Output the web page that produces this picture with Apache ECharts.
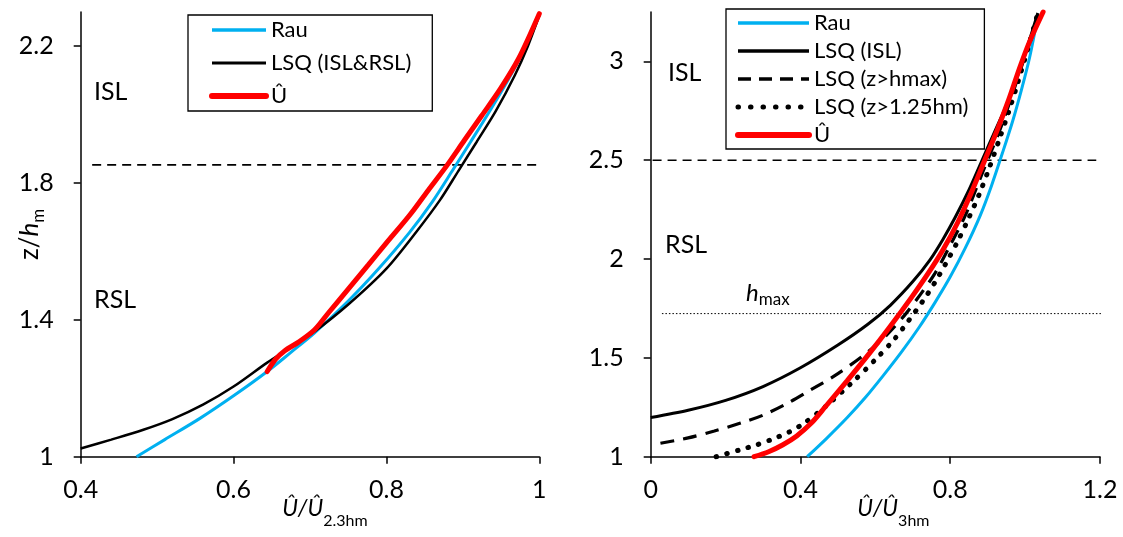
<!DOCTYPE html>
<html>
<head>
<meta charset="utf-8">
<script src="https://cdn.jsdelivr.net/npm/echarts@6/dist/echarts.min.js"></script>
<style>html,body{margin:0;padding:0;background:#fff}#c{width:1123px;height:537px}</style>
</head>
<body>
<div id="c"></div>
<script>
// ---------- data ----------
const leftXTicks = [0.4, 0.6, 0.8, 1];
const leftYTicks = [1, 1.4, 1.8, 2.2];
const rightXTicks = [0, 0.4, 0.8, 1.2];
const rightYTicks = [1, 1.5, 2, 2.5, 3];

const leftRau = [[0.473,1.0],[0.51,1.05],[0.556,1.112],[0.6,1.178],[0.644,1.249],[0.675,1.305],[0.706,1.362],[0.75,1.455],[0.79,1.55],[0.83,1.655],[0.86,1.745],[0.886,1.835],[0.91,1.92],[0.935,2.01],[0.96,2.105],[0.98,2.19],[1.0,2.29]];
const leftLSQ = [[0.4,1.024],[0.44,1.05],[0.481,1.078],[0.52,1.11],[0.56,1.152],[0.6,1.205],[0.644,1.275],[0.675,1.32],[0.706,1.366],[0.75,1.445],[0.8,1.55],[0.84,1.66],[0.87,1.75],[0.894,1.835],[0.918,1.92],[0.943,2.01],[0.968,2.115],[0.985,2.2],[1.0,2.29]];
const leftU = [[0.644,1.249],[0.655,1.285],[0.667,1.31],[0.685,1.335],[0.706,1.371],[0.724,1.42],[0.75,1.49],[0.776,1.56],[0.80,1.625],[0.83,1.705],[0.855,1.78],[0.879,1.851],[0.902,1.925],[0.925,1.998],[0.949,2.075],[0.973,2.164],[1.0,2.295]];
const leftISL = 1.853;
const leftISLspan = [0.415, 1.005];

const rightRau = [[0.418,1.0],[0.47,1.093],[0.525,1.198],[0.575,1.303],[0.621,1.41],[0.67,1.53],[0.717,1.655],[0.76,1.782],[0.8,1.91],[0.84,2.055],[0.88,2.22],[0.91,2.37],[0.94,2.54],[0.967,2.70],[0.99,2.855],[1.012,3.02],[1.034,3.23]];
const rightLSQisl = [[0,1.198],[0.1,1.235],[0.2,1.285],[0.3,1.355],[0.4,1.45],[0.5,1.565],[0.58,1.67],[0.64,1.766],[0.7,1.886],[0.746,1.996],[0.78,2.098],[0.813,2.21],[0.85,2.35],[0.885,2.5],[0.92,2.65],[0.955,2.8],[0.99,2.98],[1.034,3.245]];
const rightLSQhmax = [[0.026,1.068],[0.1,1.095],[0.17,1.13],[0.24,1.17],[0.3,1.21],[0.36,1.265],[0.42,1.33],[0.5,1.42],[0.58,1.53],[0.63,1.615],[0.68,1.72],[0.72,1.82],[0.76,1.93],[0.8,2.07],[0.84,2.22],[0.893,2.47],[0.93,2.64],[0.96,2.8],[0.995,3.0],[1.04,3.25]];
const rightLSQ125 = [[0.175,1.0],[0.237,1.034],[0.28,1.058],[0.324,1.088],[0.37,1.125],[0.41,1.17],[0.467,1.254],[0.535,1.37],[0.602,1.495],[0.65,1.593],[0.688,1.686],[0.727,1.788],[0.76,1.885],[0.789,1.98],[0.82,2.09],[0.85,2.21],[0.878,2.33],[0.905,2.465],[0.93,2.6],[0.957,2.75],[0.98,2.89],[1.005,3.05],[1.034,3.245]];
const rightU = [[0.276,1.0],[0.315,1.025],[0.352,1.059],[0.39,1.105],[0.429,1.17],[0.467,1.254],[0.525,1.385],[0.583,1.52],[0.64,1.66],[0.698,1.81],[0.74,1.925],[0.78,2.045],[0.82,2.185],[0.855,2.33],[0.89,2.49],[0.925,2.65],[0.957,2.81],[0.985,2.965],[1.012,3.1],[1.048,3.25]];
const rightISL = 2.5;
const rightISLspan = [0.005, 1.19];
const hmax = 1.724;
const hmaxSpan = [0.03, 1.205];

// ---------- style ----------
const FONT = 'Lato';
const BLUE = '#00b0f0', RED = '#ff0000', BLACK = '#000000';
const DASH = [13, 8], DOT = [0.5, 10.5];

function axisX(idx, min, max, ticks, nameRich, shift) {
  return {
    type: 'value', gridIndex: idx, min: min, max: max, interval: ticks[1]-ticks[0],
    splitLine: {show: false},
    axisLine: {lineStyle: {color: BLACK, width: 1.5}},
    axisTick: {show: true, length: 7, inside: false, lineStyle: {color: BLACK, width: 1.5}, customValues: ticks},
    axisLabel: {customValues: ticks, formatter: v => String(+v.toFixed(2)), fontFamily: FONT, fontSize: 25, color: BLACK, margin: 21},
    name: nameRich, nameLocation: 'middle', nameGap: 32, nameMoveOverlap: false,
    nameTextStyle: {padding: [0,0,0,shift], rich: {
      i: {fontFamily: FONT, fontStyle: 'italic', fontSize: 23, lineHeight: 40, color: BLACK},
      s: {fontFamily: FONT, fontSize: 16, lineHeight: 16, verticalAlign: 'bottom', color: BLACK}
    }}
  };
}
function axisY(idx, min, max, ticks, withName) {
  const a = {
    type: 'value', gridIndex: idx, min: min, max: max, interval: ticks[1]-ticks[0],
    splitLine: {show: false},
    axisLine: {lineStyle: {color: BLACK, width: 1.5}},
    axisTick: {show: true, length: 7, inside: false, lineStyle: {color: BLACK, width: 1.5}, customValues: ticks},
    axisLabel: {customValues: ticks, formatter: v => String(+v.toFixed(2)), fontFamily: FONT, fontSize: 25, color: BLACK, margin: 27}
  };
  if (withName) {
    a.name = '{a|z/}{i|h}{s|m}';
    a.nameLocation = 'middle';
    a.nameRotate = 90;
    a.nameGap = 34;
    a.nameMoveOverlap = false;
    a.nameTextStyle = {rich: {
      a: {fontFamily: FONT, fontSize: 26, lineHeight: 34, color: BLACK},
      i: {fontFamily: FONT, fontStyle: 'italic', fontSize: 26, lineHeight: 34, color: BLACK},
      s: {fontFamily: FONT, fontSize: 17, lineHeight: 22, verticalAlign: 'bottom', color: BLACK}
    }};
  }
  return a;
}
function line(name, data, xi, color, width, type, cap) {
  return {
    name: name, type: 'line', xAxisIndex: xi, yAxisIndex: xi, data: data,
    showSymbol: false, symbol: 'none', smooth: 0.3, clip: false, silent: true,
    lineStyle: {color: color, width: width, type: type || 'solid', cap: cap || 'butt'},
    itemStyle: {color: color}
  };
}
function refLine(span, y, xi, width, type) {
  return {
    type: 'line', xAxisIndex: xi, yAxisIndex: xi,
    data: [[span[0], y], [span[1], y]], showSymbol: false, symbol: 'none', clip: false, silent: true,
    lineStyle: {color: BLACK, width: width, type: type}
  };
}
function legItem(name, color, width, type, cap) {
  return {name: name, lineStyle: {color: color, width: width, type: type || 'solid', cap: cap || 'butt'}};
}

const legendText = {fontFamily: FONT, fontSize: 22, lineHeight: 22, color: BLACK};

const option = {
  backgroundColor: '#ffffff',
  animation: false,
  grid: [
    {left: 80.7, right: 1123 - 539.3, top: 12, bottom: 537 - 456.7, outerBoundsMode: 'none', containLabel: false},
    {left: 650.7, right: 1123 - 1100, top: 12, bottom: 537 - 456.7, outerBoundsMode: 'none', containLabel: false}
  ],
  xAxis: [
    axisX(0, 0.4, 1, leftXTicks, '{i|Û/Û}{s|2.3hm}', 30),
    axisX(1, 0, 1.2, rightXTicks, '{i|Û/Û}{s|3hm}', 36)
  ],
  yAxis: [
    axisY(0, 1, 2.3, leftYTicks, true),
    axisY(1, 1, 3.25, rightYTicks, false)
  ],
  legend: [
    {
      data: [legItem('Rau', BLUE, 3.5), legItem('LSQ (ISL&RSL)', BLACK, 3), legItem('Û', RED, 6, 'solid', 'round')],
      orient: 'vertical', left: 188, top: 15,
      padding: [4, 21, 4, 21], itemGap: 11, itemWidth: 54, itemHeight: 14,
      itemStyle: {opacity: 0},
      borderColor: BLACK, borderWidth: 1.3, textStyle: legendText, selectedMode: false
    },
    {
      data: [legItem('Rau', BLUE, 3.5), legItem('LSQ (ISL)', BLACK, 3.5), legItem('LSQ (z>hmax)', BLACK, 3.5, DASH),
             legItem('LSQ (z>1.25hm)', BLACK, 5, [0.5, 12], 'round'), legItem('Û', RED, 6, 'solid', 'round')],
      orient: 'vertical', left: 726, top: 9,
      padding: [3, 16, 3, 9], itemGap: 6, itemWidth: 71, itemHeight: 14,
      itemStyle: {opacity: 0},
      borderColor: BLACK, borderWidth: 1.3, textStyle: legendText, selectedMode: false
    }
  ],
  graphic: [
    {type: 'text', left: 94, top: 79, style: {text: 'ISL', font: '25px ' + FONT, fill: BLACK}},
    {type: 'text', left: 94, top: 287, style: {text: 'RSL', font: '25px ' + FONT, fill: BLACK}},
    {type: 'text', left: 668, top: 60, style: {text: 'ISL', font: '25px ' + FONT, fill: BLACK}},
    {type: 'text', left: 665, top: 232, style: {text: 'RSL', font: '25px ' + FONT, fill: BLACK}},
    {type: 'text', left: 746, top: 281, style: {text: '{i|h}{s|max}', fill: BLACK, rich: {
      i: {fontFamily: FONT, fontStyle: 'italic', fontSize: 24, lineHeight: 30, fill: BLACK},
      s: {fontFamily: FONT, fontSize: 17, lineHeight: 17, verticalAlign: 'bottom', fill: BLACK}
    }}}
  ],
  series: [
    refLine(leftISLspan, leftISL, 0, 1.6, [9, 6]),
    line('Rau', leftRau, 0, BLUE, 3),
    line('LSQ (ISL&RSL)', leftLSQ, 0, BLACK, 2.5),
    line('Û', leftU, 0, RED, 5, 'solid', 'round'),

    refLine(rightISLspan, rightISL, 1, 1.6, [9, 6]),
    refLine(hmaxSpan, hmax, 1, 1, [1.5, 2]),
    line('Rau', rightRau, 1, BLUE, 3),
    line('LSQ (ISL)', rightLSQisl, 1, BLACK, 3),
    line('LSQ (z>hmax)', rightLSQhmax, 1, BLACK, 3.2, [14, 9]),
    line('LSQ (z>1.25hm)', rightLSQ125, 1, BLACK, 5, DOT, 'round'),
    line('Û', rightU, 1, RED, 5, 'solid', 'round')
  ]
};

const chart = echarts.init(document.getElementById('c'), null, {renderer: 'canvas'});
chart.setOption(option);
</script>
</body>
</html>
